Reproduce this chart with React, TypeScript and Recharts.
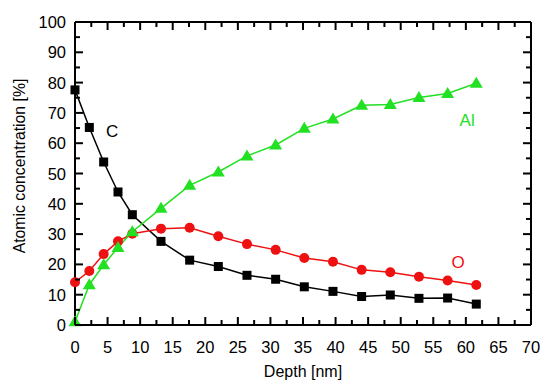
import { LineChart, Line, XAxis, YAxis, ReferenceDot, Label } from "recharts";

// depth in nm
const depth = [0, 2.2, 4.4, 6.6, 8.8, 13.2, 17.6, 22, 26.4, 30.8, 35.2, 39.6, 44, 48.4, 52.8, 57.2, 61.6];
const carbon = [77.6, 65.2, 53.8, 43.9, 36.4, 27.6, 21.4, 19.3, 16.4, 15.1, 12.6, 11.1, 9.4, 9.9, 8.8, 8.9, 6.9];
const oxygen = [14.1, 17.8, 23.4, 27.6, 30.1, 31.8, 32.1, 29.3, 26.7, 24.8, 22.1, 20.9, 18.2, 17.4, 15.9, 14.7, 13.2];
const aluminium = [1.1, 13.3, 19.9, 25.6, 30.8, 38.5, 46.1, 50.5, 55.8, 59.4, 64.9, 68.0, 72.5, 72.8, 75.1, 76.4, 79.8];

const xTicks = [0, 2.5, 5, 7.5, 10, 12.5, 15, 17.5, 20, 22.5, 25, 27.5, 30, 32.5, 35, 37.5, 40, 42.5, 45, 47.5, 50, 52.5, 55, 57.5, 60, 62.5, 65, 67.5, 70];
const yTicks = [0, 5, 10, 15, 20, 25, 30, 35, 40, 45, 50, 55, 60, 65, 70, 75, 80, 85, 90, 95, 100];

const seriesLabels = [
  { text: "C", x: 5.7, y: 64, color: "#000000" },
  { text: "Al", x: 60.2, y: 67.8, color: "#22e022" },
  { text: "O", x: 58.8, y: 20.8, color: "#ee1111" },
];

const data = depth.map((d, i) => ({ depth: d, C: carbon[i], O: oxygen[i], Al: aluminium[i] }));

const GREEN = "#22e022";
const RED = "#ee1111";
const FONT = "Arial, 'Liberation Sans', sans-serif";

const isMajorX = (v: number) => v % 5 === 0;
const isMajorY = (v: number) => v % 10 === 0;

function BottomTick(props: any) {
  const x = Number(props.x);
  const y = Number(props.y);
  const v = props.payload.value;
  const major = isMajorX(v);
  return (
    <g>
      <path d={`M${x},${y}V${y - (major ? 8 : 5)}`} stroke="#000000" strokeWidth={2} fill="none" />
      {major && (
        <text x={x} y={y + 28} textAnchor="middle" fontSize={16.5} fontFamily={FONT} fill="#000">
          {v}
        </text>
      )}
    </g>
  );
}

function TopTick(props: any) {
  const x = Number(props.x);
  const y = Number(props.y);
  const major = isMajorX(props.payload.value);
  return <path d={`M${x},${y}V${y + (major ? 8 : 5)}`} stroke="#000000" strokeWidth={2} fill="none" />;
}

function LeftTick(props: any) {
  const x = Number(props.x);
  const y = Number(props.y);
  const v = props.payload.value;
  const major = isMajorY(v);
  return (
    <g>
      <path d={`M${x},${y}H${x + (major ? 8 : 5)}`} stroke="#000000" strokeWidth={2} fill="none" />
      {major && (
        <text x={x - 9} y={y + 6} textAnchor="end" fontSize={16.5} fontFamily={FONT} fill="#000">
          {v}
        </text>
      )}
    </g>
  );
}

function RightTick(props: any) {
  const x = Number(props.x);
  const y = Number(props.y);
  const major = isMajorY(props.payload.value);
  return <path d={`M${x},${y}H${x - (major ? 8 : 5)}`} stroke="#000000" strokeWidth={2} fill="none" />;
}

const Square = ({ cx, cy }: any) => <rect x={cx - 4.5} y={cy - 4.5} width={9} height={9} fill="#000" />;
const Circle = ({ cx, cy }: any) => <circle cx={cx} cy={cy} r={5} fill={RED} />;
const Triangle = ({ cx, cy }: any) => (
  <polygon points={`${cx},${cy - 6.5} ${cx - 6.5},${cy + 4.5} ${cx + 6.5},${cy + 4.5}`} fill={GREEN} />
);

const frame = { stroke: "#000", strokeWidth: 2 };

export default function App() {
  return (
    <div style={{ position: "absolute", left: 0, top: 0, background: "#fff" }}>
      <LineChart width={550} height={386} data={data} margin={{ top: 21, right: 18, left: 0, bottom: 0 }}>
        <XAxis
          xAxisId="b"
          dataKey="depth"
          type="number"
          domain={[0, 70]}
          ticks={xTicks}
          interval={0}
          height={61}
          tickSize={0}
          tickMargin={0}
          tickLine={false}
          axisLine={frame}
          tick={BottomTick}
        >
          <Label
            content={() => (
              <text x={303} y={377} textAnchor="middle" fontSize={16} fontFamily={FONT} fill="#000">
                Depth [nm]
              </text>
            )}
          />
        </XAxis>
        <XAxis
          xAxisId="t"
          dataKey="depth"
          orientation="top"
          type="number"
          domain={[0, 70]}
          ticks={xTicks}
          interval={0}
          height={1}
          tickSize={0}
          tickMargin={0}
          tickLine={false}
          axisLine={frame}
          tick={TopTick}
        />
        <YAxis
          yAxisId="l"
          type="number"
          domain={[0, 100]}
          ticks={yTicks}
          interval={0}
          width={75}
          tickSize={0}
          tickMargin={0}
          tickLine={false}
          axisLine={frame}
          tick={LeftTick}
        >
          <Label
            content={() => (
              <text
                x={25}
                y={166}
                transform="rotate(-90 25 166)"
                textAnchor="middle"
                fontSize={15.8}
                fontFamily={FONT}
                fill="#000"
              >
                Atomic concentration [%]
              </text>
            )}
          />
        </YAxis>
        <YAxis
          yAxisId="r"
          orientation="right"
          type="number"
          domain={[0, 100]}
          ticks={yTicks}
          interval={0}
          width={1}
          tickSize={0}
          tickMargin={0}
          tickLine={false}
          axisLine={frame}
          tick={RightTick}
        />
        <Line
          xAxisId="b"
          yAxisId="l"
          dataKey="C"
          stroke="#000"
          strokeWidth={1.5}
          dot={<Square />}
          activeDot={false}
          isAnimationActive={false}
        />
        <Line
          xAxisId="b"
          yAxisId="l"
          dataKey="O"
          stroke={RED}
          strokeWidth={1.5}
          dot={<Circle />}
          activeDot={false}
          isAnimationActive={false}
        />
        <Line
          xAxisId="t"
          yAxisId="r"
          dataKey="Al"
          stroke={GREEN}
          strokeWidth={1.5}
          dot={<Triangle />}
          activeDot={false}
          isAnimationActive={false}
        />
        {seriesLabels.map((l) => (
          <ReferenceDot
            key={l.text}
            xAxisId="b"
            yAxisId="l"
            x={l.x}
            y={l.y}
            r={0}
            fill="none"
            stroke="none"
            label={{ value: l.text, position: "center", fill: l.color, fontSize: 17, fontFamily: FONT }}
          />
        ))}
      </LineChart>
    </div>
  );
}
